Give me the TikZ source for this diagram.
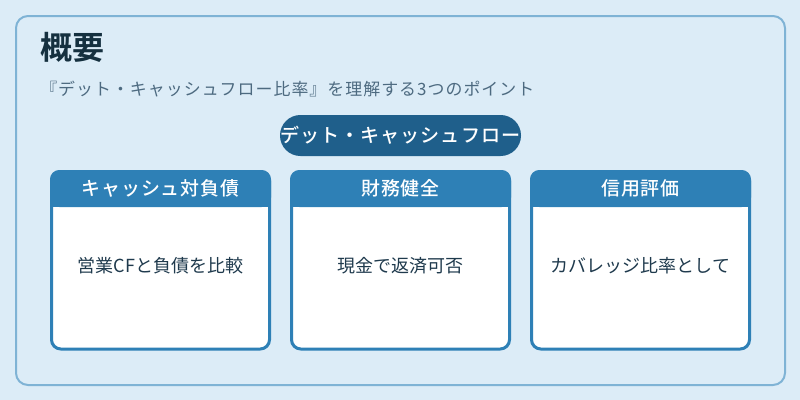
\documentclass[tikz,border=0pt]{standalone}
\usepackage{fontspec}
\setmainfont{Noto Sans CJK JP}
\newfontfamily\jpbold[LetterSpace=5]{Noto Sans CJK JP Medium}
\newfontfamily\jptitle{Noto Sans CJK JP Bold}
\newfontfamily\jpsub[LetterSpace=6]{Noto Sans CJK JP}
\definecolor{pagebg}{HTML}{DCECF7}
\definecolor{outerline}{HTML}{7FB3D5}
\definecolor{cardline}{HTML}{2E80B6}
\definecolor{pillfill}{HTML}{1F5F8B}
\definecolor{inktitle}{HTML}{15303F}
\definecolor{inksub}{HTML}{4D6A80}
\definecolor{inkbody}{HTML}{1F3A4D}
\tikzset{
  x=0.75pt,y=-0.75pt,
  panel/.style={draw=outerline,line width=1.5pt,fill=pagebg,rounded corners=9pt},
  cardbody/.style={draw=cardline,line width=2.25pt,fill=white,rounded corners=7pt},
  cardhead/.style={fill=cardline},
  headtext/.style={text=white,font=\jpbold\fontsize{14.2pt}{16pt}\selectfont,inner sep=0pt},
  bodytext/.style={text=inkbody,font=\fontsize{13.5pt}{15pt}\selectfont,inner sep=0pt},
  pillbox/.style={fill=pillfill,rounded corners=15.3pt},
}
\begin{document}
\begin{tikzpicture}
\useasboundingbox (0,0) rectangle (800,400);
\fill[pagebg] (0,0) rectangle (800,400);
\draw[panel] (16,16) rectangle (785,385);
\node[anchor=west,inner sep=0pt,text=inktitle,font=\jptitle\fontsize{24pt}{28pt}\selectfont] (title) at (40,47) {概要};
\node[anchor=west,inner sep=0pt,text=inksub,font=\jpsub\fontsize{12.7pt}{15pt}\selectfont] (subtitle) at (40,89) {『デット・キャッシュフロー比率』を理解する3つのポイント};
\fill[pillbox] (280,115) rectangle (521,156);
\node[text=white,inner sep=0pt,font=\jpbold\fontsize{14.3pt}{18pt}\selectfont] (pill) at (400.5,135.5) {デット・キャッシュフロー};
\foreach \x/\nm/\head/\body in {
  50/a/キャッシュ対負債/営業CFと負債を比較,
  290/b/財務健全/現金で返済可否,
  530/c/信用評価/カバレッジ比率として}{
  \draw[cardbody] (\x+1.5,171.5) rectangle (\x+219.5,349);
  \fill[cardhead,rounded corners=7pt] (\x,170) -- (\x+221,170) -- (\x+221,207) -- (\x,207) -- cycle;
  \fill[cardhead] (\x,190) rectangle (\x+221,207);
  \node[headtext] (h\nm) at (\x+110.5,188.5) {\head};
  \node[bodytext] (t\nm) at (\x+110.5,266) {\body};
}
\end{tikzpicture}
\end{document}
